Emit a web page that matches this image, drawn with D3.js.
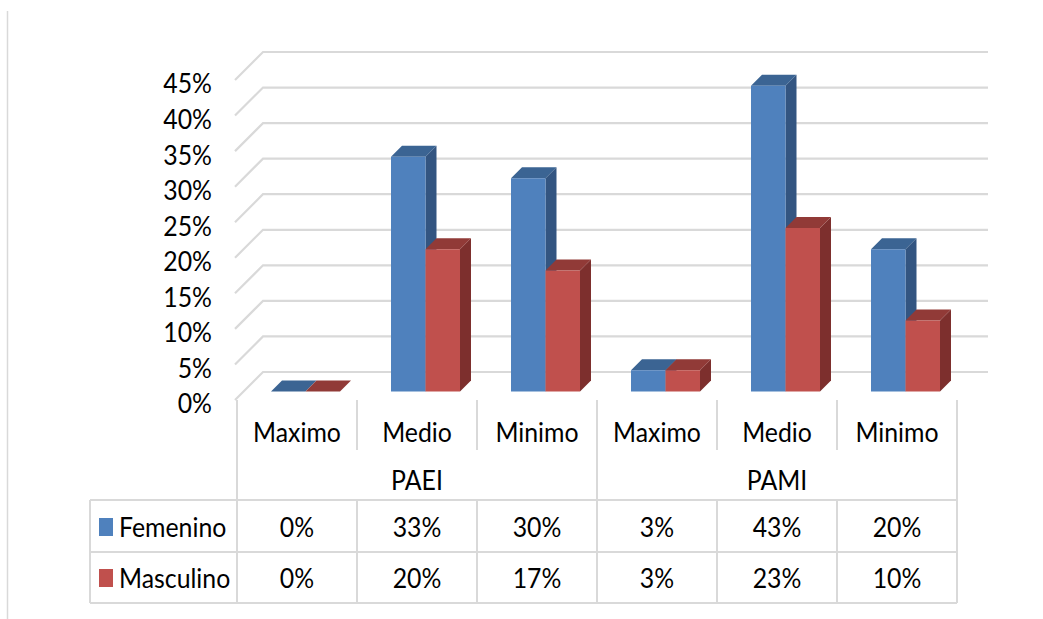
<!DOCTYPE html>
<html>
<head>
<meta charset="utf-8">
<script src="https://cdn.jsdelivr.net/npm/d3@7"></script>
<style>
  html, body { margin: 0; padding: 0; background: #fff; }
  svg { display: block; }
</style>
</head>
<body>
<svg id="chart" width="1043" height="619"></svg>
<script>
// Data
const groups = ["PAEI", "PAMI"];
const levels = ["Maximo", "Medio", "Minimo"];
const seriesNames = ["Femenino", "Masculino"];
const femenino = [0, 0.33, 0.30, 0.03, 0.43, 0.20];
const masculino = [0, 0.20, 0.17, 0.03, 0.23, 0.10];
const yTicks = [0, 0.05, 0.10, 0.15, 0.20, 0.25, 0.30, 0.35, 0.40, 0.45];

const colors = {
  Femenino: { front: "#4F81BD", side: "#335581", top: "#3B6493" },
  Masculino: { front: "#C0504D", side: "#7D2F2D", top: "#913A37" }
};
const gridColor = "#D9D9D9";
const fontFamily = "Lato, 'Open Sans', sans-serif";
const fontSize = 27;
const sx = 0.92; // horizontal text compression

const categories = [];
groups.forEach(g => levels.forEach(l => categories.push({ key: g + "-" + l, group: g, level: l })));

const svg = d3.select("#chart");

// Scales (front plane); depth is an oblique offset (dx = +z, dy = -z)
const y = d3.scaleLinear().domain([0, 0.45]).range([400, 80]);
const x = d3.scaleBand().domain(categories.map(c => c.key)).range([237, 957]).padding(0);
const xs = d3.scaleBand().domain(seriesNames).range([0, x.bandwidth()]).paddingInner(0).paddingOuter(0.739);
const wallDepth = 28, barZ = 8.5, barDepth = 11;
const P = (px, py, z) => [px + z, py - z];

// Outer frame line on the left
svg.append("line").attr("x1", 7.5).attr("x2", 7.5).attr("y1", 11).attr("y2", 619)
  .attr("stroke", gridColor).attr("stroke-width", 1.5);

// Side wall + back wall gridlines
const grid = svg.append("g").attr("fill", "none").attr("stroke", gridColor).attr("stroke-width", 2.2);
yTicks.forEach(t => {
  const f = [235, y(t)];
  const b = P(235, y(t), wallDepth);
  grid.append("polyline")
    .attr("points", [f, b, [988, b[1]]].map(p => p.join(",")).join(" "));
});

// Text helper (horizontally compressed labels)
function txt(parent, str, px, py, anchor) {
  const g = parent.append("g").attr("transform", `translate(${px},${py}) scale(${sx},1)`);
  g.append("text").attr("x", 0).attr("y", 0)
    .attr("text-anchor", anchor || "middle").attr("dominant-baseline", "central")
    .attr("font-family", fontFamily).attr("font-size", fontSize).attr("fill", "#000")
    .text(str);
  return g;
}
const fmt = d3.format(".0%");
const yAxis = svg.append("g");
yTicks.forEach(t => txt(yAxis, fmt(t), 212, y(t) + 3, "end"));

// 3D bars
const bars = svg.append("g");
categories.forEach((c, i) => {
  const vals = { Femenino: femenino[i], Masculino: masculino[i] };
  seriesNames.forEach(s => {
    const v = vals[s];
    const x0 = x(c.key) + xs(s), x1 = x0 + xs.bandwidth();
    const yt = y(v), yb = y(0);
    const fl = P(x0, yt, barZ), fr = P(x1, yt, barZ);
    const bl = P(x0, yb, barZ), br = P(x1, yb, barZ);
    const tr = P(x1, yt, barZ + barDepth), tl = P(x0, yt, barZ + barDepth);
    const btr = P(x1, yb, barZ + barDepth);
    const col = colors[s];
    const poly = (pts, fill) => bars.append("polygon")
      .attr("points", pts.map(p => p.join(",")).join(" ")).attr("fill", fill);
    poly([fr, tr, btr, br], col.side);
    poly([fl, fr, tr, tl], col.top);
    if (v > 0) poly([fl, fr, br, bl], col.front);
  });
});

// Data table below the plot
const table = svg.append("g").attr("stroke", gridColor).attr("stroke-width", 2).attr("fill", "none");
const line = (x1, y1, x2, y2) => table.append("line").attr("x1", x1).attr("y1", y1).attr("x2", x2).attr("y2", y2);
const rowTop = 400, rowCat = 450, rowGrp = 500, rowF = 552, rowM = 603, legendLeft = 90;
[rowGrp, rowF, rowM].forEach(r => line(legendLeft, r, 957, r));
line(legendLeft, rowGrp, legendLeft, rowM);
categories.forEach((c, i) => {
  const xl = x(c.key);
  if (i % 3 === 0) line(xl, rowTop, xl, rowM);
  else { line(xl, rowTop, xl, rowCat); line(xl, rowGrp, xl, rowM); }
});
line(957, rowTop, 957, rowM);

const labels = svg.append("g");
categories.forEach((c, i) => {
  const cx = x(c.key) + x.bandwidth() / 2;
  txt(labels, c.level, cx, 432);
  txt(labels, fmt(femenino[i]), cx, 527);
  txt(labels, fmt(masculino[i]), cx, 578);
});
groups.forEach(g => {
  const cx = (x(g + "-" + levels[0]) + x(g + "-" + levels[2]) + x.bandwidth()) / 2;
  txt(labels, g, cx, 480);
});

// Legend keys in the table
[["Femenino", 527], ["Masculino", 578]].forEach(([s, cy]) => {
  labels.append("rect").attr("x", 99).attr("y", cy - 9).attr("width", 14).attr("height", 18)
    .attr("fill", colors[s].front);
  txt(labels, s, 119, cy, "start");
});
</script>
</body>
</html>
